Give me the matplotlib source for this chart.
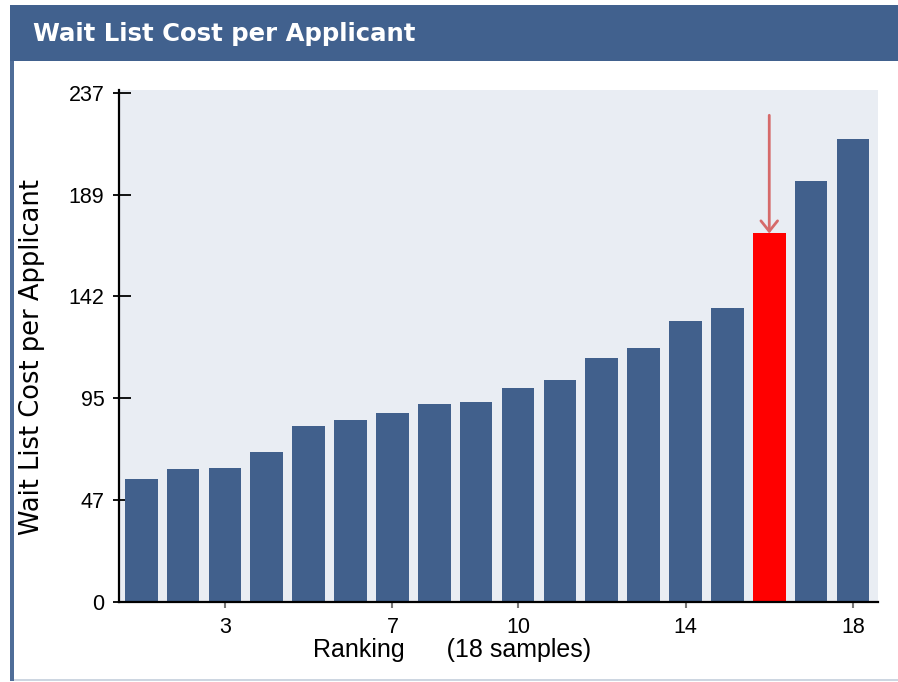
"""
Wait List Cost per Applicant —— 排名柱状图，第 16 名用红色柱并加箭头标出。
"""
import matplotlib
matplotlib.use("Agg")
import matplotlib.pyplot as plt
from matplotlib.patches import Rectangle

# 数据
ranks = list(range(1, 19))
costs = [57.2, 61.7, 62.4, 69.6, 81.9, 84.7, 87.8, 92.3, 93.1,
         99.7, 103.3, 113.4, 118.1, 130.8, 136.7, 171.5, 196.0, 215.6]
highlight_rank = 16
x_ticks = [3, 7, 10, 14, 18]
y_ticks = [0, 47.4, 94.8, 142.2, 189.6, 237]
y_tick_labels = ["0", "47", "95", "142", "189", "237"]

title = "Wait List Cost per Applicant"
y_label = "Wait List Cost per Applicant"
x_label = "Ranking      (18 samples)"

BLUE = "#41608c"
HEADER = "#41618e"
RED = "#ff0000"
ARROW = "#d66a6a"
BG = "#e9edf3"

W, H = 898, 682
fig = plt.figure(figsize=(W / 100, H / 100), dpi=100)
fig.patch.set_facecolor("white")


def px(x0, y0, x1, y1):
    """像素框 -> figure 坐标 [left, bottom, width, height]"""
    return [x0 / W, 1 - y1 / H, (x1 - x0) / W, (y1 - y0) / H]


# 顶部标题栏 + 左边框 + 底边线
l, b, w, h = px(10, 5, 898, 61)
fig.add_artist(Rectangle((l, b), w, h, transform=fig.transFigure,
                         facecolor=HEADER, edgecolor="none"))
l, b, w, h = px(10, 61, 14, 681)
fig.add_artist(Rectangle((l, b), w, h, transform=fig.transFigure,
                         facecolor="#4f6d98", edgecolor="none"))
l, b, w, h = px(14, 679, 898, 681)
fig.add_artist(Rectangle((l, b), w, h, transform=fig.transFigure,
                         facecolor="#cdd6e1", edgecolor="none"))
fig.text(33 / W, 1 - 33.5 / H, title, color="white", fontsize=17.6,
         fontweight="bold", family="DejaVu Sans", ha="left", va="center")

ax = fig.add_axes(px(119, 89.5, 877.7, 602))
ax.set_facecolor(BG)

colors = [RED if r == highlight_rank else BLUE for r in ranks]
ax.bar(ranks, costs, width=0.78, color=colors, edgecolor="none", zorder=2)

# 箭头指向高亮柱
hv = costs[ranks.index(highlight_rank)]
ax.annotate("", xy=(highlight_rank, hv), xytext=(highlight_rank, 226.5),
            arrowprops=dict(arrowstyle="->,head_length=0.75,head_width=0.6",
                            color=ARROW, lw=2, shrinkA=0, shrinkB=0,
                            mutation_scale=10), zorder=3)

ax.set_xlim(0.47, 18.59)
ax.set_ylim(0, 238.5)

for s in ["top", "right"]:
    ax.spines[s].set_visible(False)
for s in ["left", "bottom"]:
    ax.spines[s].set_color("black")
    ax.spines[s].set_linewidth(1.6)

ax.set_xticks(x_ticks)
ax.set_xticklabels([str(t) for t in x_ticks])
ax.tick_params(axis="x", direction="out", length=4.5, width=1.5,
               color="#777777", pad=6.5, labelsize=15.5)

# y 轴刻度：内侧长、外侧短（主刻度向内，次刻度同位置向外）
ax.set_yticks(y_ticks)
ax.set_yticklabels(y_tick_labels)
ax.set_yticks(y_ticks, minor=True)
ax.yaxis.remove_overlapping_locs = False
ax.tick_params(axis="y", which="major", direction="in", length=8.6,
               width=1.3, color="black", pad=10.5, labelsize=15.5)
ax.tick_params(axis="y", which="minor", direction="out", length=4.3,
               width=1.3, color="black", labelleft=False)

for lab in ax.get_xticklabels() + ax.get_yticklabels():
    lab.set_family("Liberation Sans")

ax.set_xlabel(x_label, fontsize=18, family="Liberation Sans", va="top")
ax.xaxis.set_label_coords(0.439, -0.071)
ax.set_ylabel(y_label, fontsize=18.5, family="DejaVu Sans")
ax.yaxis.set_label_coords(-0.098, 0.479)

fig.savefig("out.png", dpi=100)
